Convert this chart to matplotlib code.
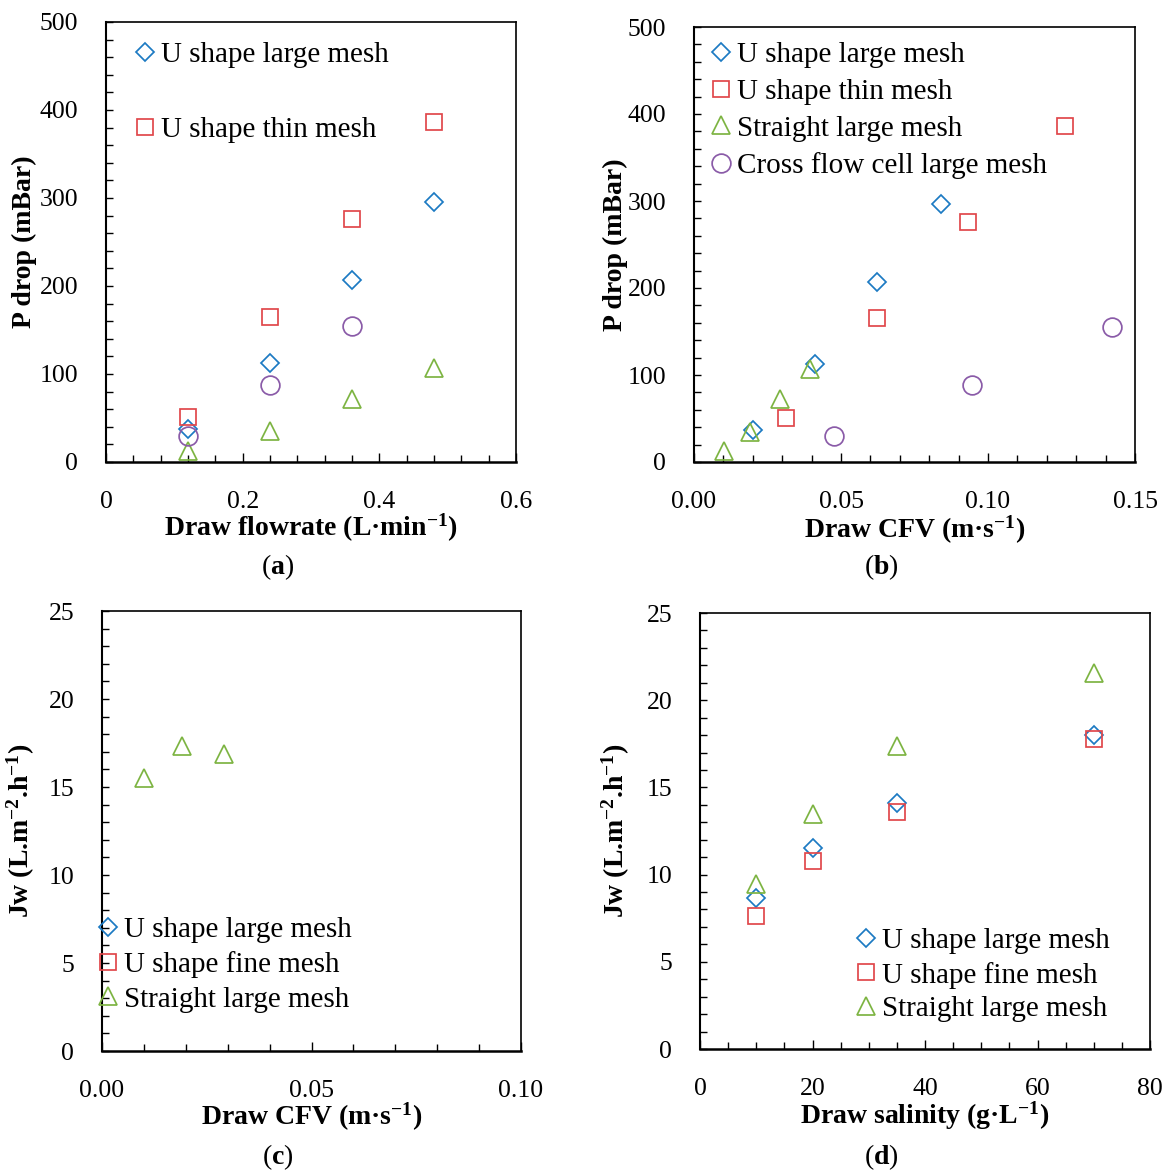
import matplotlib
matplotlib.use("Agg")
import matplotlib.pyplot as plt
from matplotlib.ticker import MultipleLocator, FormatStrFormatter

plt.rcParams['font.family'] = ['Liberation Serif', 'DejaVu Serif']
plt.rcParams['mathtext.fontset'] = 'custom'
plt.rcParams['mathtext.rm'] = 'Liberation Serif'
plt.rcParams['mathtext.bf'] = 'Liberation Serif:bold'
plt.rcParams['mathtext.default'] = 'regular'

# ---- data ----
# (a) P drop vs draw flowrate
flow_4 = [0.12, 0.24, 0.36, 0.48]
flow_3 = [0.12, 0.24, 0.36]
pdrop_u_large = [37, 113, 207, 296]
pdrop_u_thin = [51, 165, 276, 386]
pdrop_straight = [13, 35, 72, 107]
pdrop_cross = [30, 88, 155]

# (b) P drop vs draw CFV
cfv_u_large = [0.0202, 0.0412, 0.0621, 0.0841]
cfv_u_thin = [0.0312, 0.0621, 0.0933, 0.1263]
cfv_straight = [0.0101, 0.0192, 0.0291, 0.0393]
cfv_cross = [0.0477, 0.0947, 0.1422]

# (c) Jw vs draw CFV (straight large mesh only)
cfv_c = [0.010, 0.019, 0.029]
jw_c = [15.5, 17.35, 16.86]

# (d) Jw vs draw salinity
salinity = [10, 20, 35, 70]
jw_u_large = [8.64, 11.5, 14.1, 18.0]
jw_u_fine = [7.6, 10.78, 13.6, 17.76]
jw_straight = [9.45, 13.5, 17.37, 21.58]

BLUE = '#1c7ac3'
RED = '#e0474b'
GREEN = '#7db442'
PURPLE = '#8a5ba8'

styles = {
    'large': dict(marker='D', ms=8.8, color=BLUE),
    'thin': dict(marker='s', ms=11.5, color=RED),
    'straight': dict(marker='^', ms=13.5, color=GREEN),
    'cross': dict(marker='o', ms=13.5, color=PURPLE),
}

W, H = 1170, 1172
fig = plt.figure(figsize=(W / 100, H / 100), dpi=100)


def px_axes(left, top, right, bottom):
    return fig.add_axes([left / W, 1 - bottom / H, (right - left) / W, (bottom - top) / H])


def pts(ax, x, y, key, label=None):
    st = styles[key]
    return ax.plot(x, y, linestyle='none', marker=st['marker'], markersize=st['ms'],
                   markerfacecolor='none', markeredgecolor=st['color'],
                   markeredgewidth=1.25, label=label)[0]


def style_axes(ax, xmaj, xmin, ymaj, ymin, xfmt):
    ax.xaxis.set_major_locator(MultipleLocator(xmaj))
    ax.xaxis.set_minor_locator(MultipleLocator(xmin))
    ax.yaxis.set_major_locator(MultipleLocator(ymaj))
    ax.yaxis.set_minor_locator(MultipleLocator(ymin))
    ax.xaxis.set_major_formatter(FormatStrFormatter(xfmt))
    ax.tick_params(which='both', direction='in', top=False, right=False, width=1.0,
                   labelsize=18.5, colors='black')
    ax.tick_params(axis='x', which='major', length=6.3, pad=21)
    ax.tick_params(axis='x', which='minor', length=5)
    ax.tick_params(axis='y', which='both', length=4.8, pad=20)
    for s in ax.spines.values():
        s.set_linewidth(1.2)
    ax.spines['bottom'].set_linewidth(1.8)
    ax.spines['left'].set_linewidth(1.5)


def leg(ax, handles, x, y, spacing):
    lg = ax.legend(handles=handles, loc='upper left', bbox_to_anchor=(x / W, 1 - y / H),
                   bbox_transform=fig.transFigure, frameon=False, fontsize=21,
                   borderpad=0, borderaxespad=0, handlelength=0.6, handletextpad=0.27,
                   labelspacing=spacing, numpoints=1)
    lg.set_zorder(5)
    return lg


# ---- (a) ----
ax = px_axes(106, 22, 516, 462)
h1 = pts(ax, flow_4, pdrop_u_large, 'large', 'U shape large mesh')
h2 = pts(ax, flow_4, pdrop_u_thin, 'thin', 'U shape thin mesh')
pts(ax, flow_4, pdrop_straight, 'straight')
pts(ax, flow_3, pdrop_cross, 'cross')
ax.set_xlim(0, 0.6)
ax.set_ylim(0, 500)
style_axes(ax, 0.2, 0.04, 100, 20, '%g')
ax.set_xlabel(r'Draw flowrate (L·min$^{−1}$)', fontsize=20, fontweight='bold')
ax.set_ylabel('P drop (mBar)', fontsize=20, fontweight='bold')
ax.xaxis.set_label_coords(0.5, -0.112)
ax.yaxis.set_label_coords(-0.168, 0.5)
leg(ax, [h1, h2], 136, 42, 1.65)
fig.text(278 / W, 1 - 567 / H, r'($\mathbf{a}$)', fontsize=20, ha='center', va='center')

# ---- (b) ----
ax = px_axes(694, 27, 1135, 462)
h1 = pts(ax, cfv_u_large, pdrop_u_large, 'large', 'U shape large mesh')
h2 = pts(ax, cfv_u_thin, pdrop_u_thin, 'thin', 'U shape thin mesh')
h3 = pts(ax, cfv_straight, pdrop_straight, 'straight', 'Straight large mesh')
h4 = pts(ax, cfv_cross, pdrop_cross, 'cross', 'Cross flow cell large mesh')
ax.set_xlim(0, 0.15)
ax.set_ylim(0, 500)
style_axes(ax, 0.05, 0.01, 100, 20, '%.2f')
ax.set_xlabel(r'Draw CFV (m·s$^{−1}$)', fontsize=20, fontweight='bold')
ax.set_ylabel('P drop (mBar)', fontsize=20, fontweight='bold')
ax.xaxis.set_label_coords(0.5, -0.118)
ax.yaxis.set_label_coords(-0.15, 0.5)
leg(ax, [h1, h2, h3, h4], 712, 42, 0.35)
fig.text(881 / W, 1 - 567 / H, r'($\mathbf{b}$)', fontsize=20, ha='center', va='center')

# ---- (c) ----
ax = px_axes(102, 611, 521, 1051)
h1 = pts(ax, [], [], 'large', 'U shape large mesh')
h2 = pts(ax, [], [], 'thin', 'U shape fine mesh')
h3 = pts(ax, cfv_c, jw_c, 'straight', 'Straight large mesh')
ax.set_xlim(0, 0.1)
ax.set_ylim(0, 25)
style_axes(ax, 0.05, 0.01, 5, 1, '%.2f')
ax.set_xlabel(r'Draw CFV (m·s$^{-1}$)', fontsize=20, fontweight='bold')
ax.set_ylabel(r'Jw (L.m$^{−2}$.h$^{−1}$)', fontsize=20, fontweight='bold')
ax.xaxis.set_label_coords(0.5, -0.114)
ax.yaxis.set_label_coords(-0.155, 0.5)
leg(ax, [h1, h2, h3], 99, 917, 0.27)
fig.text(278 / W, 1 - 1157 / H, r'($\mathbf{c}$)', fontsize=20, ha='center', va='center')

# ---- (d) ----
ax = px_axes(700, 613, 1150, 1049)
h1 = pts(ax, salinity, jw_u_large, 'large', 'U shape large mesh')
h2 = pts(ax, salinity, jw_u_fine, 'thin', 'U shape fine mesh')
h3 = pts(ax, salinity, jw_straight, 'straight', 'Straight large mesh')
ax.set_xlim(0, 80)
ax.set_ylim(0, 25)
style_axes(ax, 20, 5, 5, 1, '%g')
ax.set_xlabel(r'Draw salinity (g·L$^{−1}$)', fontsize=20, fontweight='bold')
ax.set_ylabel(r'Jw (L.m$^{−2}$.h$^{−1}$)', fontsize=20, fontweight='bold')
ax.xaxis.set_label_coords(0.5, -0.115)
ax.yaxis.set_label_coords(-0.152, 0.5)
leg(ax, [h1, h2, h3], 857, 928, 0.25)
fig.text(881 / W, 1 - 1157 / H, r'($\mathbf{d}$)', fontsize=20, ha='center', va='center')

fig.savefig('out.png', dpi=100)
